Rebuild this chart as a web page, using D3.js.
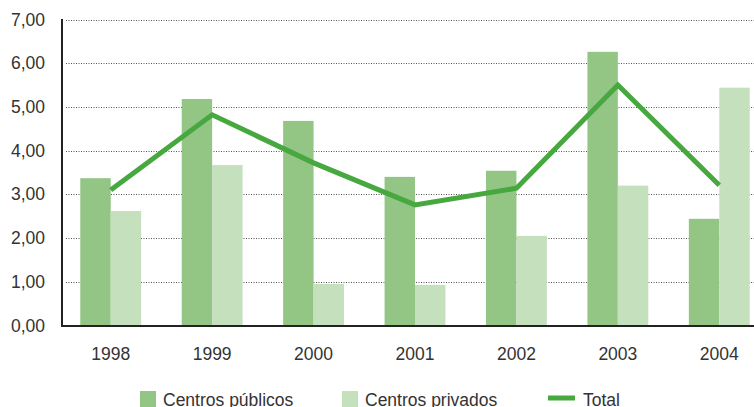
<!DOCTYPE html>
<html><head><meta charset="utf-8">
<script src="https://cdn.jsdelivr.net/npm/d3@7"></script>
<style>body{margin:0;background:#fff}svg{display:block}text{font-family:"Liberation Sans",Arial,sans-serif;fill:#333}</style>
</head><body><svg id="c" width="754" height="407"></svg>
<script>
const years = ["1998","1999","2000","2001","2002","2003","2004"];
const publicos = [3.37,5.18,4.68,3.40,3.54,6.26,2.44];
const privados = [2.62,3.67,0.95,0.93,2.05,3.20,5.44];
const total = [3.10,4.82,3.72,2.76,3.14,5.50,3.21];
const yTicks = [0,1,2,3,4,5,6,7];
const seriesNames = ["Centros públicos","Centros privados","Total"];
const colPub = "#93c585", colPriv = "#c5e0bd", colTot = "#47a83f";

const svg = d3.select("#c");
const x = d3.scaleBand().domain(years).range([60,770]).paddingInner(0.4).paddingOuter(0.2);
const y = d3.scaleLinear().domain([0,7]).range([325.5,19.5]);
const bw = x.bandwidth()/2;

// gridlines
svg.append("g").selectAll("line").data(yTicks.slice(1)).join("line")
  .attr("x1",66).attr("x2",754).attr("y1",d=>Math.round(y(d))+0.5).attr("y2",d=>Math.round(y(d))+0.5)
  .attr("stroke","#555").attr("stroke-width",1).attr("stroke-dasharray","1,1.5");

// bars
svg.append("g").selectAll("rect").data(years).join("rect")
  .attr("x",d=>x(d)).attr("width",bw).attr("y",(d,i)=>y(publicos[i])).attr("height",(d,i)=>y(0)-y(publicos[i])).attr("fill",colPub);
svg.append("g").selectAll("rect").data(years).join("rect")
  .attr("x",d=>x(d)+bw).attr("width",bw).attr("y",(d,i)=>y(privados[i])).attr("height",(d,i)=>y(0)-y(privados[i])).attr("fill",colPriv);

// line
const line = d3.line().x((d,i)=>x(years[i])+bw).y(d=>y(d));
svg.append("path").datum(total).attr("d",line).attr("fill","none").attr("stroke",colTot).attr("stroke-width",5).attr("stroke-linejoin","miter");

// axes
svg.append("line").attr("x1",62).attr("x2",62).attr("y1",19).attr("y2",326.5).attr("stroke","#222").attr("stroke-width",2);
svg.append("line").attr("x1",61).attr("x2",754).attr("y1",326).attr("y2",326).attr("stroke","#222").attr("stroke-width",2);

// y labels
svg.append("g").selectAll("text").data(yTicks).join("text")
  .attr("x",45).attr("y",d=>y(d)+6).attr("text-anchor","end").attr("font-size",17.5)
  .text(d=>d3.format(".2f")(d).replace(".",","));
// x labels
svg.append("g").selectAll("text").data(years).join("text")
  .attr("x",d=>x(d)+bw).attr("y",360).attr("text-anchor","middle").attr("font-size",17.5).text(d=>d);

// legend
const lg = svg.append("g");
lg.append("rect").attr("x",140).attr("y",391).attr("width",16).attr("height",16).attr("fill",colPub);
lg.append("text").attr("x",163).attr("y",406).attr("font-size",17.5).text(seriesNames[0]);
lg.append("rect").attr("x",342).attr("y",391).attr("width",16).attr("height",16).attr("fill",colPriv);
lg.append("text").attr("x",365).attr("y",406).attr("font-size",17.5).text(seriesNames[1]);
lg.append("line").attr("x1",548).attr("x2",575).attr("y1",398).attr("y2",398).attr("stroke",colTot).attr("stroke-width",5);
lg.append("text").attr("x",583).attr("y",406).attr("font-size",17.5).text(seriesNames[2]);
</script></body></html>
